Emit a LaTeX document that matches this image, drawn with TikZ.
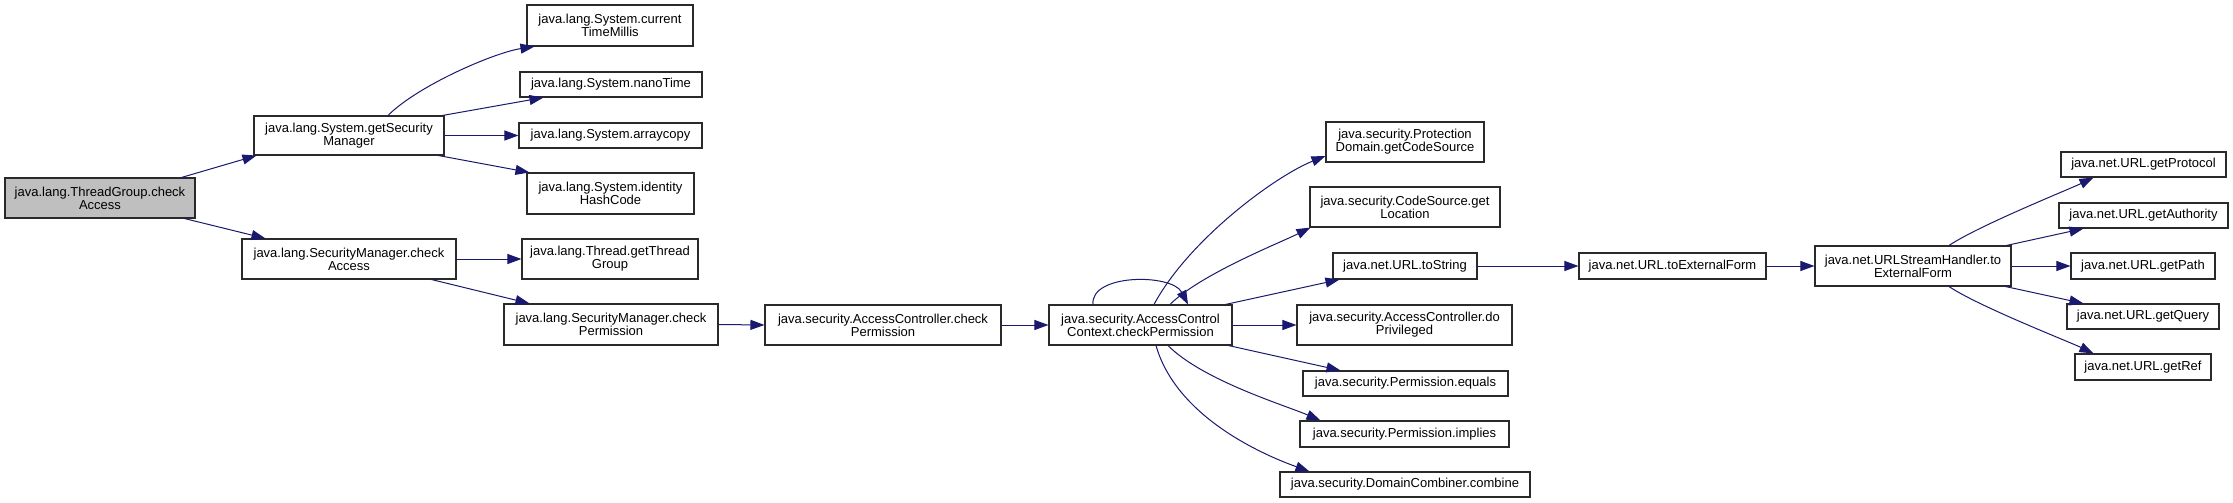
\documentclass[tikz,border=0pt]{standalone}
\usepackage{fontspec}
\setmainfont{Liberation Sans}
\usetikzlibrary{arrows.meta,calc}
\definecolor{edgec}{HTML}{191970}
\definecolor{graynode}{HTML}{BFBFBF}
\definecolor{boxline}{HTML}{2A2A2A}
\begin{document}
\begin{tikzpicture}[x=1pt,y=-1pt,
  box/.style={draw=boxline, line width=1.1pt, fill=white, inner sep=0pt, align=center,
    font=\fontsize{13}{13.2}\selectfont},
  edge/.style={draw=edgec, line width=1pt, -{Triangle[length=14pt,width=10pt]}}]
\useasboundingbox (0,0) rectangle (2233,503);
\fill[white] (0,0) rectangle (2233,503);
% column 0
\node[box, fill=graynode, minimum width=190pt, minimum height=40pt] (tg) at (100,198) {java.lang.ThreadGroup.check\\Access};
% column 1
\node[box, minimum width=190pt, minimum height=39pt] (gsm) at (349,135.5) {java.lang.System.getSecurity\\Manager};
\node[box, minimum width=214pt, minimum height=40pt] (smca) at (349,259) {java.lang.SecurityManager.check\\Access};
% column 2
\node[box, minimum width=166pt, minimum height=41pt] (ctm) at (610,25.5) {java.lang.System.current\\TimeMillis};
\node[box, minimum width=182pt, minimum height=25pt] (nt) at (611,84.5) {java.lang.System.nanoTime};
\node[box, minimum width=183pt, minimum height=25pt] (ac) at (610.5,135.5) {java.lang.System.arraycopy};
\node[box, minimum width=167pt, minimum height=41pt] (ihc) at (610.5,193.5) {java.lang.System.identity\\HashCode};
\node[box, minimum width=176pt, minimum height=40pt] (gtg) at (610,259) {java.lang.Thread.getThread\\Group};
\node[box, minimum width=214pt, minimum height=41pt] (smcp) at (611,324.5) {java.lang.SecurityManager.check\\Permission};
% column 3, 4
\node[box, minimum width=236pt, minimum height=40pt] (accp) at (883,325) {java.security.AccessController.check\\Permission};
\node[box, minimum width=183pt, minimum height=40pt] (accx) at (1140.5,325) {java.security.AccessControl\\Context.checkPermission};
% column 5
\node[box, minimum width=158pt, minimum height=40pt] (pd) at (1405,142) {java.security.Protection\\Domain.getCodeSource};
\node[box, minimum width=190pt, minimum height=40pt] (cs) at (1405,207) {java.security.CodeSource.get\\Location};
\node[box, minimum width=144pt, minimum height=26pt] (uts) at (1405,266) {java.net.URL.toString};
\node[box, minimum width=215pt, minimum height=40pt] (dp) at (1404.5,325) {java.security.AccessController.do\\Privileged};
\node[box, minimum width=205pt, minimum height=25pt] (pe) at (1405.5,383.5) {java.security.Permission.equals};
\node[box, minimum width=209pt, minimum height=26pt] (pi) at (1404.5,434) {java.security.Permission.implies};
\node[box, minimum width=250pt, minimum height=25pt] (dc) at (1405,484.5) {java.security.DomainCombiner.combine};
% column 6, 7
\node[box, minimum width=187pt, minimum height=26pt] (tef) at (1672.5,266) {java.net.URL.toExternalForm};
\node[box, minimum width=196pt, minimum height=40pt] (ush) at (1913,266) {java.net.URLStreamHandler.to\\ExternalForm};
% column 8
\node[box, minimum width=165pt, minimum height=25pt] (gp) at (2143.5,164.5) {java.net.URL.getProtocol};
\node[box, minimum width=169pt, minimum height=25pt] (ga) at (2143.5,215.5) {java.net.URL.getAuthority};
\node[box, minimum width=144pt, minimum height=26pt] (gpa) at (2143,266) {java.net.URL.getPath};
\node[box, minimum width=152pt, minimum height=25pt] (gq) at (2143,316.5) {java.net.URL.getQuery};
\node[box, minimum width=136pt, minimum height=26pt] (gr) at (2143,367) {java.net.URL.getRef};
% edges
\draw[edge] ($(tg.north east)+(-14,0)$) -- ($(gsm.south west)+(3,0)$);
\draw[edge] ($(tg.south east)+(-11,0)$) -- ($(smca.north west)+(24,0)$);
\draw[edge] ($(gsm.north)+(39,0)$) .. controls +(30,-30) and +(-40,6) .. ($(ctm.south west)+(8,0)$);
\draw[edge] ($(gsm.north east)+(-2,0)$) -- ($(nt.south west)+(24,0)$);
\draw[edge] (gsm.east) -- (ac.west);
\draw[edge] ($(gsm.south east)+(-6,0)$) -- ($(ihc.north west)+(3,0)$);
\draw[edge] (smca.east) -- (gtg.west);
\draw[edge] ($(smca.south east)+(-25,0)$) -- ($(smcp.north west)+(26,0)$);
\draw[edge] (smcp.east) -- (accp.west);
\draw[edge] (accp.east) -- (accx.west);
\draw[edge] ($(accx.north)+(-47.5,0)$) .. controls +(-3,-31) and +(-16,-31) .. ($(accx.north)+(47.5,0)$);
\draw[edge] ($(accx.north)+(13.5,0)$) .. controls +(35,-65) and +(-50,20) .. ($(pd.west)+(0,14)$);
\draw[edge] ($(accx.north)+(29.5,0)$) .. controls +(30,-30) and +(-30,15) .. ($(cs.south west)+(1,0)$);
\draw[edge] ($(accx.north east)+(-7,0)$) -- ($(uts.south west)+(7,0)$);
\draw[edge] (accx.east) -- (dp.west);
\draw[edge] ($(accx.south east)+(-4,0)$) -- ($(pe.north west)+(38,0)$);
\draw[edge] ($(accx.south)+(27.5,0)$) .. controls +(35,35) and +(-35,-15) .. ($(pi.north west)+(21,0)$);
\draw[edge] ($(accx.south)+(15.5,0)$) .. controls +(20,70) and +(-50,-18) .. ($(dc.north west)+(30,0)$);
\draw[edge] (uts.east) -- (tef.west);
\draw[edge] (tef.east) -- (ush.west);
\draw[edge] ($(ush.north)+(36,0)$) .. controls +(30,-20) and +(-25,12) .. ($(gp.south west)+(33,0)$);
\draw[edge] ($(ush.north east)+(-5,0)$) -- ($(ga.south west)+(25,0)$);
\draw[edge] (ush.east) -- (gpa.west);
\draw[edge] ($(ush.south east)+(-6,0)$) -- ($(gq.north west)+(17,0)$);
\draw[edge] ($(ush.south)+(36,0)$) .. controls +(30,20) and +(-25,-12) .. ($(gr.north west)+(19,0)$);
\end{tikzpicture}
\end{document}
